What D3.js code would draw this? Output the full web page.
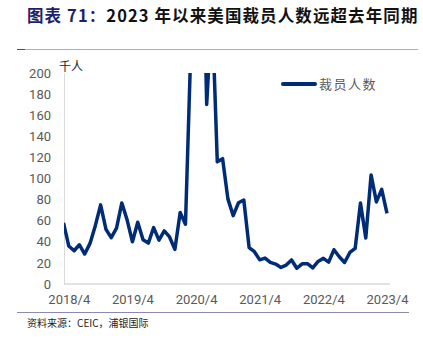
<!DOCTYPE html>
<html><head><meta charset="utf-8">
<script src="https://cdn.jsdelivr.net/npm/d3@7"></script>
<style>
html,body{margin:0;padding:0;background:#fff;}
svg{display:block;font-family:"Noto Sans CJK SC","Noto Sans",sans-serif;}
</style></head>
<body>
<script>
const months = ["2018/3","2018/4","2018/5","2018/6","2018/7","2018/8","2018/9","2018/10","2018/11","2018/12",
"2019/1","2019/2","2019/3","2019/4","2019/5","2019/6","2019/7","2019/8","2019/9","2019/10","2019/11","2019/12",
"2020/1","2020/2","2020/3","2020/4","2020/5","2020/6","2020/7","2020/8","2020/9","2020/10","2020/11","2020/12",
"2021/1","2021/2","2021/3","2021/4","2021/5","2021/6","2021/7","2021/8","2021/9","2021/10","2021/11","2021/12",
"2022/1","2022/2","2022/3","2022/4","2022/5","2022/6","2022/7","2022/8","2022/9","2022/10","2022/11","2022/12",
"2023/1","2023/2","2023/3","2023/4"];
const layoffs = [58,36,31.5,37.2,28.4,38.5,55.3,75,51.9,43.9,
53,76.8,60.6,40,58.6,42,38.8,53.5,41.6,50.3,44.6,32.8,
67.7,56.7,222.3,671.1,397,170.2,262.6,115.8,118.8,80.7,64.8,77,
79.6,34.5,30.6,22.9,24.6,20.5,18.9,15.7,17.9,22.8,14.9,19.1,
19.3,15.2,21.4,24.3,20.7,32.5,25.8,20.4,29.9,33.8,76.8,43.7,
103.4,77.8,89.7,67];
const xTickLabels = ["2018/4","2019/4","2020/4","2021/4","2022/4","2023/4"];
const yTicks = [0,20,40,60,80,100,120,140,160,180,200];
const seriesName = "裁员人数";
const unitLabel = "千人";
const titlePrefix = "图表 71：";
const titleMain = "2023 年以来美国裁员人数远超去年同期";
const sourceText = "资料来源：CEIC，浦银国际";

const W=423,H=346;
const svg=d3.select("body").append("svg").attr("width",W).attr("height",H);

// title
const t=svg.append("text").attr("x",27).attr("y",22).attr("font-size",16.5).attr("font-weight","bold").attr("letter-spacing",1.1);
t.append("tspan").attr("fill","#1f1f6e").text(titlePrefix);
t.append("tspan").attr("fill","#111").text(titleMain);

// rules
svg.append("line").attr("x1",17).attr("x2",418).attr("y1",49.5).attr("y2",49.5).attr("stroke","#a9a9c9").attr("stroke-width",1);
svg.append("line").attr("x1",17).attr("x2",25).attr("y1",49.5).attr("y2",49.5).attr("stroke","#4a4a86").attr("stroke-width",1);
svg.append("line").attr("x1",17).attr("x2",409).attr("y1",312.5).attr("y2",312.5).attr("stroke","#8a8ab0").attr("stroke-width",1);

svg.append("text").attr("x",27).attr("y",327).attr("font-size",10).attr("fill","#222").text(sourceText);

const x=d3.scalePoint().domain(months).range([63.5,387]);
const y=d3.scaleLinear().domain([0,200]).range([284,73]);

// y axis
const ya=svg.append("g").attr("transform","translate(64,0)").call(d3.axisLeft(y).tickValues(yTicks).tickSize(0).tickPadding(13));
ya.select(".domain").attr("stroke","#d9d9d9").attr("stroke-width",1);
ya.selectAll("text").attr("font-size",13).attr("fill","#595959").attr("font-family","Roboto, 'Noto Sans', sans-serif");

// x axis
const xa=svg.append("g").attr("transform","translate(0,284)").call(d3.axisBottom(x).tickValues(xTickLabels).tickSize(0).tickPadding(11).tickSizeOuter(0));
xa.select(".domain").attr("stroke","#d9d9d9").attr("stroke-width",1.5).attr("d","M64,0H390");
xa.selectAll("text").attr("font-size",13).attr("fill","#595959").attr("font-family","Roboto, 'Noto Sans', sans-serif");

svg.append("text").attr("x",59).attr("y",71).attr("font-size",12).attr("fill","#222").text(unitLabel);

// clip
svg.append("clipPath").attr("id","clip").append("rect").attr("x",64).attr("y",73).attr("width",340).attr("height",220);

const line=d3.line().x((d,i)=>x(months[i])).y(d=>y(d));
svg.append("path").attr("clip-path","url(#clip)").datum(layoffs).attr("d",line)
  .attr("fill","none").attr("stroke","#002c77").attr("stroke-width",3.5).attr("stroke-linejoin","round");

// legend
svg.append("line").attr("x1",283).attr("x2",315).attr("y1",84).attr("y2",84).attr("stroke","#002c77").attr("stroke-width",4).attr("stroke-linecap","round");
svg.append("text").attr("x",319).attr("y",89).attr("font-size",13).attr("letter-spacing",1.5).attr("fill","#595959").text(seriesName);
</script>
</body></html>
